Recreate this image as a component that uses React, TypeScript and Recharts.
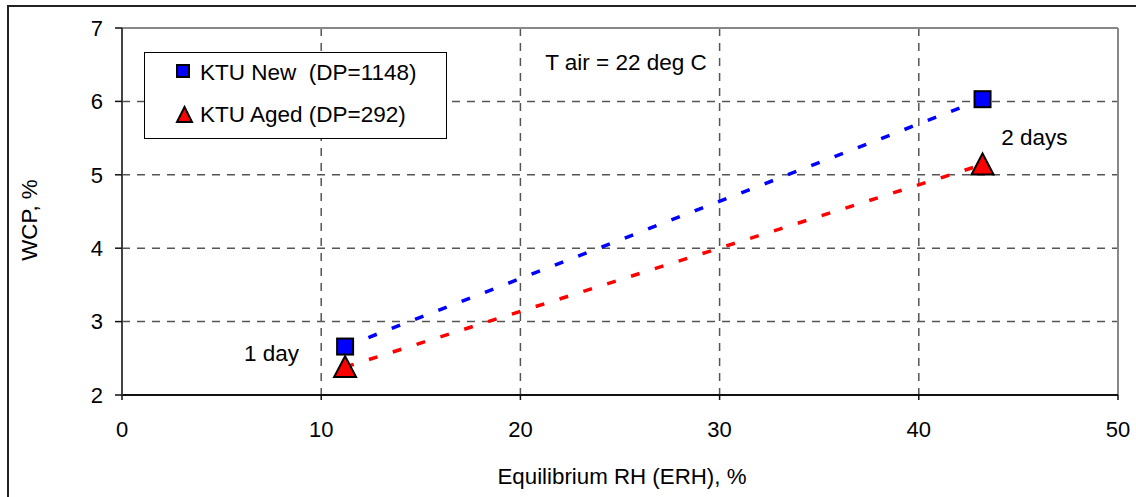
import React from 'react';
import {
  ScatterChart, Scatter, XAxis, YAxis, CartesianGrid, ReferenceLine, ReferenceDot,
} from 'recharts';

const FONT = '"Liberation Sans", Arial, Helvetica, sans-serif';

// Data
const newSeries = [
  { erh: 11.2, wcp: 2.66 },
  { erh: 43.2, wcp: 6.03 },
];
const agedSeries = [
  { erh: 11.2, wcp: 2.38 },
  { erh: 43.2, wcp: 5.14 },
];
const xTicks = [0, 10, 20, 30, 40, 50];
const yTicks = [2, 3, 4, 5, 6, 7];
const seriesNames = ['KTU New  (DP=1148)', 'KTU Aged (DP=292)'];

const SquareShape = (props: any) => {
  const { cx, cy } = props;
  if (cx == null || cy == null) return null;
  return <rect x={cx - 8} y={cy - 8} width={16} height={16} fill="#0000ff" stroke="#000" strokeWidth={2} />;
};

const TriangleShape = (props: any) => {
  const { cx, cy } = props;
  if (cx == null || cy == null) return null;
  const pts = `${cx},${cy - 11} ${cx + 11},${cy + 10} ${cx - 11},${cy + 10}`;
  return <polygon points={pts} fill="#ff0000" stroke="#000" strokeWidth={2} strokeLinejoin="miter" />;
};

const LegendBox = () => (
  <div style={{ position: 'absolute', left: 144, top: 52, width: 303, height: 87, border: '1px solid #000', background: '#fff', boxSizing: 'border-box' }}>
    <svg width={301} height={85} style={{ display: 'block' }}>
      <rect x={32} y={12} width={12} height={12} fill="#0000ff" stroke="#000" strokeWidth={2} />
      <text x={55} y={19} fontSize={22.5} fontFamily={FONT} fill="#000" dominantBaseline="central" style={{ whiteSpace: 'pre' }}>
        {seriesNames[0]}
      </text>
      <polygon points="39.5,54 47,69 32,69" fill="#ff0000" stroke="#000" strokeWidth={2} />
      <text x={55} y={61.5} fontSize={22.5} fontFamily={FONT} fill="#000" dominantBaseline="central" style={{ whiteSpace: 'pre' }}>
        {seriesNames[1]}
      </text>
    </svg>
  </div>
);

const XTitle = (props: any) => {
  const vb = props.viewBox || {};
  return (
    <text x={vb.x + vb.width / 2 + 2} y={vb.y + 89} textAnchor="middle" fontSize={22.3} fontFamily={FONT} fill="#000">
      Equilibrium RH (ERH), %
    </text>
  );
};

const YTitle = (props: any) => {
  const vb = props.viewBox || {};
  const x = vb.x + 29;
  const y = 220;
  return (
    <text x={x} y={y} transform={`rotate(-90, ${x}, ${y})`} textAnchor="middle" dominantBaseline="central" fontSize={22.3} fontFamily={FONT} fill="#000">
      WCP, %
    </text>
  );
};

export default function App() {
  return (
    <div style={{ position: 'absolute', left: 0, top: 0, width: 1136, height: 497, overflow: 'hidden', background: '#fff' }}>
      <div style={{ position: 'absolute', left: 7, top: 5, width: 2000, height: 2000, borderTop: '2px solid #222', borderLeft: '2px solid #222' }} />
      <div style={{ position: 'absolute', left: 0, top: 0 }}>
        <ScatterChart width={1136} height={497} margin={{ top: 28, right: 18, bottom: 0, left: 0 }}>
          <CartesianGrid stroke="#555" strokeWidth={1.5} strokeDasharray="8 7" />
          <XAxis
            type="number"
            dataKey="erh"
            domain={[0, 50]}
            ticks={xTicks}
            interval={0}
            height={102}
            tickSize={5}
            tickMargin={21}
            axisLine={{ stroke: '#111', strokeWidth: 2 }}
            tickLine={{ stroke: '#111', strokeWidth: 1.5 }}
            tick={{ fontSize: 22, fontFamily: FONT, fill: '#000' }}
            label={<XTitle />}
          />
          <YAxis
            type="number"
            dataKey="wcp"
            domain={[2, 7]}
            ticks={yTicks}
            interval={0}
            width={122}
            tickSize={7}
            tickMargin={12}
            axisLine={{ stroke: '#444', strokeWidth: 2 }}
            tickLine={{ stroke: '#111', strokeWidth: 1.5 }}
            tick={{ fontSize: 22, fontFamily: FONT, fill: '#000' }}
            label={<YTitle />}
          />
          <ReferenceLine y={7} stroke="#888" strokeWidth={2} />
          <ReferenceLine x={50} stroke="#888" strokeWidth={2} />
          <Scatter
            name={seriesNames[0]}
            data={newSeries}
            fill="#0000ff"
            line={{ stroke: '#0000ff', strokeWidth: 3.5, strokeDasharray: '9 16' }}
            lineType="joint"
            shape={<SquareShape />}
            isAnimationActive={false}
          />
          <Scatter
            name={seriesNames[1]}
            data={agedSeries}
            fill="#ff0000"
            line={{ stroke: '#ff0000', strokeWidth: 3.5, strokeDasharray: '9 16' }}
            lineType="joint"
            shape={<TriangleShape />}
            isAnimationActive={false}
          />
          <ReferenceDot x={7.5} y={2.57} r={1} fill="none" stroke="none"
            label={{ value: '1 day', position: 'center', fontSize: 22.5, fontFamily: FONT, fill: '#000' }} />
          <ReferenceDot x={25.3} y={6.54} r={1} fill="none" stroke="none"
            label={{ value: 'T air = 22 deg C', position: 'center', fontSize: 22.5, fontFamily: FONT, fill: '#000' }} />
          <ReferenceDot x={45.8} y={5.52} r={1} fill="none" stroke="none"
            label={{ value: '2 days', position: 'center', fontSize: 22.5, fontFamily: FONT, fill: '#000' }} />
        </ScatterChart>
      </div>
      <LegendBox />
    </div>
  );
}
